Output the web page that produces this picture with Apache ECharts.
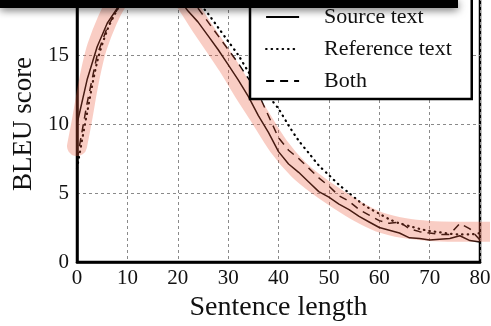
<!DOCTYPE html>
<html>
<head>
<meta charset="utf-8">
<script src="https://cdn.jsdelivr.net/npm/echarts@6/dist/echarts.min.js"></script>
<style>
  html, body { margin: 0; padding: 0; background: #fff; }
  #chart { width: 491px; height: 326px; }
</style>
</head>
<body>
<div id="chart"></div>
<script>
// sentence lengths sampled for the three curves
const lengths = [0, 2, 4, 6, 8, 10, 12, 14, 16, 18, 20, 22, 24, 26, 28, 30, 32, 34, 36, 38, 40,
    42, 44, 46, 48, 50, 52, 54, 56, 58, 60, 62, 64, 66, 68, 70, 72, 74, 76, 78, 80];

const sourceScores = [10.0, 13.2, 15.6, 17.3, 18.4, 19.4, 20.0, 20.3, 20.3, 20.0, 19.2, 18.2, 17.4, 16.4, 15.4, 14.3, 13.2, 12.0, 10.6, 9.4, 8.0,
    7.1, 6.5, 5.8, 5.1, 4.7, 4.2, 3.8, 3.3, 2.9, 2.5, 2.3, 2.1, 1.75, 1.7, 1.6, 1.65, 1.7, 1.9, 1.55, 1.45];

const referenceScores = [6.8, 10.8, 14.5, 16.8, 18.3, 19.5, 20.4, 21.0, 21.3, 21.3, 21.0, 20.3, 18.9, 18.0, 17.0, 16.0, 15.0, 13.8, 12.8, 12.0, 11.1,
    9.9, 8.8, 7.9, 7.0, 6.3, 5.6, 5.0, 4.4, 3.9, 3.5, 3.1, 2.8, 2.6, 2.4, 2.25, 2.15, 2.05, 2.0, 2.0, 2.1];

const bothScores = [7.4, 11.5, 15.0, 17.0, 18.3, 19.4, 20.2, 20.6, 20.7, 20.6, 20.3, 19.6, 18.4, 17.4, 16.4, 15.4, 14.4, 13.3, 12.2, 10.6, 9.0,
    8.1, 7.5, 6.8, 6.1, 5.5, 4.8, 4.4, 3.8, 3.4, 3.0, 2.8, 2.9, 2.4, 2.2, 2.1, 2.0, 2.0, 2.8, 2.4, 1.6];

// hand-drawn highlight band that follows the source-text curve
const highlightLengths = [0, 1, 2, 3, 4, 6, 8, 10, 12, 15, 18, 20, 22, 25, 28, 30, 33, 36, 40, 44, 48, 52, 56, 60, 65, 70, 75, 80, 82];
const highlightScores = [8.4, 10.3, 12.4, 14.2, 15.6, 17.5, 18.9, 19.8, 20.3, 20.6, 20.3, 19.6, 18.6, 16.9, 15.3, 14.2, 12.4, 10.7, 8.4, 6.7, 5.5, 4.5, 3.6, 2.9, 2.45, 2.25, 2.2, 2.2, 2.2];

const xTicks = [0, 10, 20, 30, 40, 50, 60, 70, 80];
const yTicks = [0, 5, 10, 15, 20];

const serif = "Liberation Serif";
const zip = (xs, ys) => xs.map((x, i) => [x, ys[i]]);

const chart = echarts.init(document.getElementById("chart"), null, { renderer: "canvas" });

const gridLine = { show: true, lineStyle: { color: "#8a8a8a", width: 1, type: [3, 3] } };
const frameLine = { show: true, lineStyle: { color: "#000", width: 2.5 } };

chart.setOption({
    animation: false,
    textStyle: { fontFamily: serif },
    grid: {
        left: 77, right: 11, top: -14, bottom: 64,
        containLabel: false, outerBoundsMode: "none",
        show: true, borderColor: "#000", borderWidth: 2.5, backgroundColor: "transparent",
    },
    xAxis: {
        type: "value",
        min: xTicks[0], max: xTicks[xTicks.length - 1], interval: 10,
        name: "Sentence length", nameLocation: "middle", nameGap: 32,
        nameTextStyle: { fontFamily: serif, fontSize: 28, color: "#111" },
        axisLine: frameLine,
        axisTick: { show: false },
        axisLabel: { fontFamily: serif, fontSize: 21, color: "#111", margin: 6 },
        splitLine: gridLine,
    },
    yAxis: {
        type: "value",
        min: yTicks[0], max: yTicks[yTicks.length - 1], interval: 5,
        name: "BLEU score", nameLocation: "middle", nameGap: 40,
        nameTextStyle: { fontFamily: serif, fontSize: 27, color: "#111" },
        axisLine: frameLine,
        axisTick: { show: false },
        axisLabel: { fontFamily: serif, fontSize: 21, color: "#111", margin: 8 },
        splitLine: gridLine,
    },
    legend: {
        data: ["Source text", "Reference text", "Both"],
        orient: "vertical",
        left: 250, top: -4,
        padding: [10, 20, 7, 15],
        itemWidth: 33, itemHeight: 20, itemGap: 10,
        backgroundColor: "#fff", borderColor: "#000", borderWidth: 2.5, borderRadius: 0,
        itemStyle: { opacity: 0 },
        lineStyle: { width: 2.2 },
        textStyle: { fontFamily: serif, fontSize: 22, color: "#111", padding: [0, 0, 0, 20] },
    },
    series: [
        {
            name: "Source text", type: "line", data: zip(lengths, sourceScores),
            symbol: "none", z: 2,
            lineStyle: { color: "#000", width: 1.5 },
            itemStyle: { color: "#000" },
        },
        {
            name: "Reference text", type: "line", data: zip(lengths, referenceScores),
            symbol: "none", smooth: 0.3, z: 2,
            lineStyle: { color: "#000", width: 2.2, type: [0.5, 5], cap: "round" },
            itemStyle: { color: "#000" },
        },
        {
            name: "Both", type: "line", data: zip(lengths, bothScores),
            symbol: "none", z: 2,
            lineStyle: { color: "#000", width: 1.5, type: [8, 6] },
            itemStyle: { color: "#000" },
        },
        {
            name: "highlight", type: "line", data: zip(highlightLengths, highlightScores),
            symbol: "none", smooth: 0.3, clip: false, z: 3, silent: true,
            lineStyle: { color: "rgb(235, 90, 60)", width: 20, opacity: 0.3, cap: "round", join: "round" },
        },
    ],
    graphic: [
        {
            // dark bar of the overlapping frame cut off at the top of the crop
            type: "rect", left: 0, top: 0, z: 100,
            shape: { width: 458, height: 8 },
            style: { fill: "#000", shadowBlur: 8, shadowOffsetY: 2, shadowColor: "rgba(0,0,0,0.6)" },
        },
    ],
});
</script>
</body>
</html>
